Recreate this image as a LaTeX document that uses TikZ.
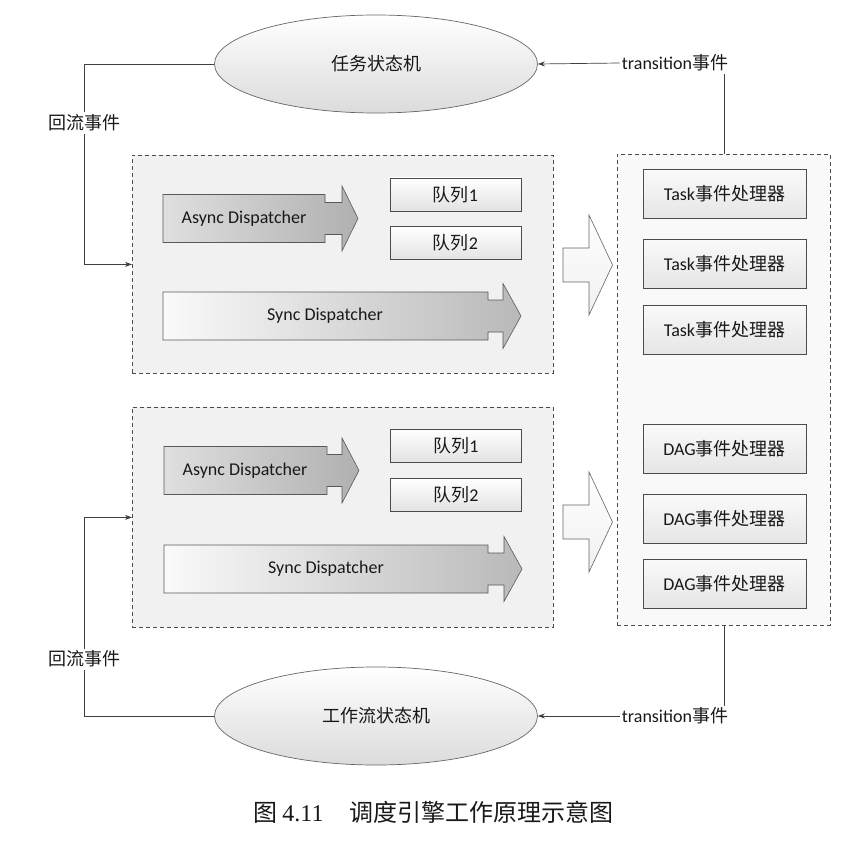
\documentclass[tikz,border=0pt]{standalone}
\usepackage{fontspec}
\setmainfont{Carlito}
\newfontfamily\cjk{Noto Sans CJK SC}
\newfontfamily\serifnum{Liberation Serif}
\usetikzlibrary{shapes.geometric,arrows.meta,calc}
\newcommand\dispshape[5]{(#1,#2-24) -- (#3,#2-24) -- (#3,#2-16) -- (#4,#2-16) -- (#4,#2-32.5) -- (#5,#2) -- (#4,#2+32.5) -- (#4,#2+16) -- (#3,#2+16) -- (#3,#2+24) -- (#1,#2+24) -- cycle}
\newcommand\hollowshape[1]{(563,#1-17) -- (589,#1-17) -- (589,#1-50) -- (612.5,#1) -- (589,#1+50) -- (589,#1+17) -- (563,#1+17) -- cycle}
\begin{document}
\begin{tikzpicture}[x=1pt,y=-1pt,
  every node/.style={text=black!90, font=\fontsize{18}{21}\selectfont},
  container/.style={draw=black!70, dash pattern=on 4pt off 3pt, line width=0.8pt, anchor=north west, inner sep=0},
  statem/.style={ellipse, draw=black!60, line width=0.7pt, minimum width=323pt, minimum height=98pt, inner sep=0, top color=white, bottom color=gray!28},
  queue/.style={draw=black!70, line width=0.6pt, minimum width=131pt, minimum height=33pt, inner sep=0, top color=white, bottom color=gray!22},
  handler/.style={draw=black!70, line width=0.6pt, minimum width=163pt, minimum height=49pt, inner sep=0, top color=gray!4, bottom color=gray!20},
  disp/.style={draw=black!65, line width=0.6pt},
  hollow/.style={draw=black!60, line width=0.6pt, top color=white, bottom color=gray!12},
  conn/.style={draw=black!75, line width=0.7pt},
  tip/.style={-{Stealth[length=7pt,width=5pt]}},
  lbl/.style={fill=white, inner sep=2pt}
]
\useasboundingbox[fill=white] (0,0) rectangle (850,850);

% containers
\node[container, fill=gray!11, minimum width=421pt, minimum height=218pt] (box1) at (132,155) {};
\node[container, fill=gray!11, minimum width=421pt, minimum height=220pt] (box2) at (132,407) {};
\node[container, fill=gray!5, minimum width=213pt, minimum height=471pt] (box3) at (617,154) {};

% dispatcher arrows
\draw[disp, left color=gray!25, right color=gray!62] \dispshape{163}{218.5}{325}{342}{358};
\draw[disp, left color=gray!4, right color=gray!55] \dispshape{163}{316}{488}{503}{521};
\draw[disp, left color=gray!25, right color=gray!62] \dispshape{164}{470.5}{327}{342}{359};
\draw[disp, left color=gray!4, right color=gray!55] \dispshape{164}{569}{488}{504}{522};
\node (async1) at (244,218.5) {Async Dispatcher};
\node (sync1) at (325,316) {Sync Dispatcher};
\node (async2) at (245,470.5) {Async Dispatcher};
\node (sync2) at (326,569) {Sync Dispatcher};

% queues
\node[queue] (q11) at (455.5,194.5) {{\cjk 队列}1};
\node[queue] (q12) at (455.5,243) {{\cjk 队列}2};
\node[queue] (q21) at (456,445.5) {{\cjk 队列}1};
\node[queue] (q22) at (456,494.5) {{\cjk 队列}2};

% hollow arrows
\draw[hollow] \hollowshape{265};
\draw[hollow] \hollowshape{522};

% handlers
\node[handler] (h1) at (724.5,194) {Task{\cjk 事件处理器}};
\node[handler] (h2) at (724.5,263.5) {Task{\cjk 事件处理器}};
\node[handler] (h3) at (724.5,329.5) {Task{\cjk 事件处理器}};
\node[handler] (h4) at (724.5,448.5) {DAG{\cjk 事件处理器}};
\node[handler] (h5) at (724.5,519) {DAG{\cjk 事件处理器}};
\node[handler] (h6) at (724.5,583.5) {DAG{\cjk 事件处理器}};

% state machines
\node[statem] (sm1) at (376,64) {\cjk 任务状态机};
\node[statem] (sm2) at (376,716) {\cjk 工作流状态机};

% labels
\node[lbl] (loop1) at (84,123) {\cjk 回流事件};
\node[lbl] (loop2) at (84,659) {\cjk 回流事件};
\node[lbl] (tr1) at (675,63) {transition{\cjk 事件}};
\node[lbl] (tr2) at (675,716) {transition{\cjk 事件}};

% connectors
\draw[conn] (sm1.west) -| (loop1.north);
\draw[conn, tip] (loop1.south) |- (box1.west);
\draw[conn] (sm2.west) -| (loop2.south);
\draw[conn, tip] (loop2.north) |- (box2.west);
\draw[conn] (box3.north) -- (box3.north |- tr1.south);
\draw[conn, tip] (tr1.west) -- (sm1.east);
\draw[conn] (box3.south) -- (box3.south |- tr2.north);
\draw[conn, tip] (tr2.west) -- (sm2.east);

% caption
\node (cap) at (433.5,812) {\fontsize{24}{28}\selectfont{\cjk 图} {\serifnum 4.11}\hspace{1.1em}{\cjk 调度引擎工作原理示意图}};
\end{tikzpicture}
\end{document}
